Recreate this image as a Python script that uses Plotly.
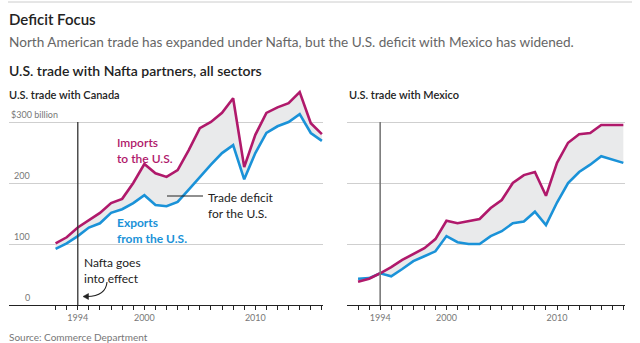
import plotly.graph_objects as go

W, H = 640, 343

years = list(range(1992, 2017))
canada_imports = [101, 111, 127, 139, 151, 167, 174, 200, 231, 216, 210, 221, 254, 290, 300, 315, 339, 226, 279, 315, 324, 331, 349, 298, 280]
canada_exports = [92, 101, 113, 127, 134, 151, 157, 167, 180, 164, 162, 169, 189, 210, 230, 249, 262, 206, 249, 282, 293, 300, 313, 282, 269]
mexico_imports = [38, 43, 52, 62, 74, 84, 93, 108, 138, 134, 138, 141, 159, 172, 200, 213, 218, 179, 233, 266, 280, 282, 295, 295, 295]
mexico_exports = [43, 44, 52, 47, 59, 72, 80, 88, 113, 103, 100, 100, 113, 121, 134, 137, 153, 131, 168, 200, 218, 230, 244, 239, 233]

grid_vals = [100, 200, 300]
tick_years = years
tick_labels = {1994: "1994", 2000: "2000", 2010: "2010"}
nafta_year = 1994

MAGENTA = "#b0196b"
BLUE = "#1a92d8"
FILL = "#e9eaeb"
FONT = "Lato"


def px(x):
    return x / W


def py(y):
    return 1 - y / H


fig = go.Figure()

panels = [
    ("x", "y", canada_imports, canada_exports),
    ("x2", "y2", mexico_imports, mexico_exports),
]

for xa, ya, imp, exp in panels:
    fig.add_trace(go.Scatter(x=years, y=exp, mode="lines", line=dict(width=0, color=FILL),
                             xaxis=xa, yaxis=ya, hoverinfo="skip", showlegend=False))
    fig.add_trace(go.Scatter(x=years, y=imp, mode="lines", line=dict(width=0, color=FILL),
                             fill="tonexty", fillcolor=FILL,
                             xaxis=xa, yaxis=ya, hoverinfo="skip", showlegend=False))
for xa, ya, imp, exp in panels:
    fig.add_trace(go.Scatter(x=years, y=exp, mode="lines", line=dict(width=2.6, color=BLUE),
                             xaxis=xa, yaxis=ya, showlegend=False))
    fig.add_trace(go.Scatter(x=years, y=imp, mode="lines", line=dict(width=2.6, color=MAGENTA),
                             xaxis=xa, yaxis=ya, showlegend=False))

y_bottom_px, y_top_px = 305, 85
y_range = [0, (y_bottom_px - y_top_px) / 0.61]

ticktext = [tick_labels.get(y, "") for y in tick_years]
xaxis_common = dict(
    tickmode="array", tickvals=tick_years, ticktext=ticktext,
    ticks="outside", ticklen=4, tickwidth=1, tickcolor="#222",
    showline=True, linecolor="#222", linewidth=1.3,
    showgrid=False, zeroline=False,
    tickfont=dict(family=FONT, size=9, color="#777"),
    fixedrange=True,
)
yaxis_common = dict(
    range=y_range, tickmode="array", tickvals=grid_vals,
    showticklabels=False, showgrid=True, gridcolor="#cfcfcf", gridwidth=1,
    zeroline=False, showline=False, ticks="",
    domain=[py(y_bottom_px), py(y_top_px)], fixedrange=True,
)

fig.update_layout(
    width=W, height=H,
    margin=dict(l=0, r=0, t=0, b=0),
    paper_bgcolor="white", plot_bgcolor="white",
    xaxis=dict(domain=[px(9), px(323)], range=[1987.8, 2016.1], anchor="y", **xaxis_common),
    yaxis=dict(anchor="x", **yaxis_common),
    xaxis2=dict(domain=[px(347), px(625)], range=[1991.0, 2016.15], anchor="y2", **xaxis_common),
    yaxis2=dict(anchor="x2", **yaxis_common),
    showlegend=False,
)

shapes = []
# top rule
shapes.append(dict(type="line", xref="paper", yref="paper", x0=px(8), x1=px(632), y0=py(2), y1=py(2),
                   line=dict(color="#cccccc", width=1)))
# Nafta lines
shapes.append(dict(type="line", xref="x", yref="y", x0=nafta_year, x1=nafta_year, y0=0, y1=300,
                   line=dict(color="#333333", width=1.3)))
shapes.append(dict(type="line", xref="x2", yref="y2", x0=nafta_year, x1=nafta_year, y0=0, y1=300,
                   line=dict(color="#7a7a7a", width=1.6)))
# trade deficit leader line
shapes.append(dict(type="line", xref="paper", yref="paper", x0=px(167), x1=px(203), y0=py(196), y1=py(196),
                   line=dict(color="#222", width=1.2)))
# curved arrow for Nafta
shapes.append(dict(type="path", xref="paper", yref="paper",
                   path=f"M {px(107)} {py(282)} Q {px(106)} {py(296)} {px(87)} {py(296.5)}",
                   line=dict(color="#222", width=1.1)))
shapes.append(dict(type="path", xref="paper", yref="paper",
                   path=f"M {px(83)} {py(296.5)} L {px(88.5)} {py(293.5)} L {px(88.5)} {py(299.5)} Z",
                   fillcolor="#222", line=dict(color="#222", width=0.5)))
fig.update_layout(shapes=shapes)

ann = []


def text(x, y, t, size, color, xanchor="left", yanchor="top", weight=None, align="left"):
    f = dict(family=FONT, size=size, color=color)
    if weight:
        f["weight"] = weight
    ann.append(dict(x=px(x), y=py(y), xref="paper", yref="paper", text=t, showarrow=False,
                    xanchor=xanchor, yanchor=yanchor, font=f, align=align, borderpad=0))


text(8, 9, "Deficit Focus", 15, "#222", weight=600)
text(8, 33, "North American trade has expanded under Nafta, but the U.S. deficit with Mexico has widened.", 13.6, "#666")
text(8, 61, "U.S. trade with Nafta partners, all sectors", 14, "#222", weight=600)
text(8, 87, "U.S. trade with Canada", 11, "#222", weight=600)
text(348, 87, "U.S. trade with Mexico", 11, "#222", weight=600)

# y labels
text(10, 121, "$300 billion", 9, "#777", yanchor="bottom")
text(31, 182, "200", 9, "#777", xanchor="right", yanchor="bottom")
text(31, 243, "100", 9, "#777", xanchor="right", yanchor="bottom")
text(31, 304, "0", 9, "#777", xanchor="right", yanchor="bottom")

text(116, 134, "Imports<br>to the U.S.", 12, MAGENTA, weight=600)
text(116, 214, "Exports<br>from the U.S.", 12, BLUE, weight=700)
text(207, 189, "Trade deficit<br>for the U.S.", 12, "#222")
text(83, 254, "Nafta goes<br>into effect", 12, "#222")

text(8, 330, "Source: Commerce Department", 10, "#777")

fig.update_layout(annotations=ann)

fig.write_html("out.html")
